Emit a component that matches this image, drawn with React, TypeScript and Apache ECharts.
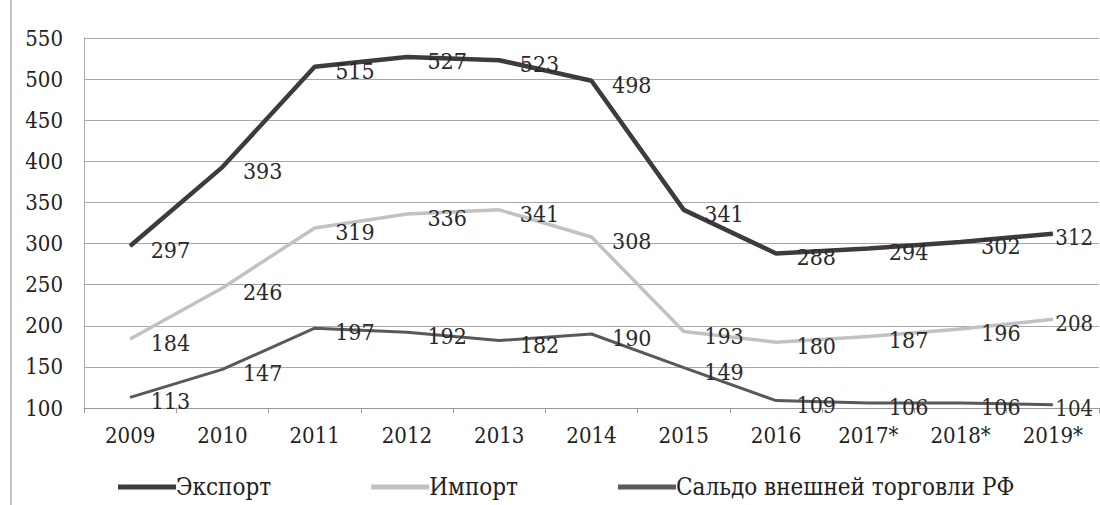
import React, { useEffect, useRef } from "react";
import * as echarts from "echarts";

const categories = ["2009", "2010", "2011", "2012", "2013", "2014", "2015", "2016", "2017*", "2018*", "2019*"];
const exportValues = [297, 393, 515, 527, 523, 498, 341, 288, 294, 302, 312];
const importValues = [184, 246, 319, 336, 341, 308, 193, 180, 187, 196, 208];
const saldoValues = [113, 147, 197, 192, 182, 190, 149, 109, 106, 106, 104];

const FONT = "DejaVu Serif Condensed";

export default function App() {
  const ref = useRef<HTMLDivElement>(null);
  useEffect(() => {
    if (!ref.current) return;
    const chart = echarts.init(ref.current, undefined, { renderer: "svg" });
    const label = {
      show: true,
      position: "right" as const,
      distance: 20,
      offset: [0, 4],
      fontFamily: FONT,
      fontSize: 23,
      color: "#2a2a2a",
    };
    const mk = (name: string, data: number[], color: string, width: number) => ({
      name,
      type: "line",
      data: data.map((v, i) =>
        i === data.length - 1 ? { value: v, label: { distance: 2, fontSize: 22 } } : v
      ),
      symbol: "circle",
      symbolSize: 1,
      showSymbol: true,
      lineStyle: { color, width },
      itemStyle: { color },
      label,
    });
    chart.setOption({
      animation: false,
      backgroundColor: "#ffffff",
      grid: { left: 84, right: 1, top: 38, bottom: 97 },
      xAxis: {
        type: "category",
        data: categories,
        boundaryGap: true,
        axisLine: { lineStyle: { color: "#999", width: 1 } },
        axisTick: { show: true, length: 5, lineStyle: { color: "#999" } },
        axisLabel: { fontFamily: FONT, fontSize: 22, color: "#222", margin: 16, interval: 0 },
      },
      yAxis: {
        type: "value",
        min: 100,
        max: 550,
        interval: 50,
        axisLine: { show: true, lineStyle: { color: "#aaa" } },
        axisTick: { show: false },
        axisLabel: { fontFamily: FONT, fontSize: 22, color: "#222", margin: 21 },
        splitLine: { lineStyle: { color: "#a8a8a8", width: 1 } },
      },
      legend: {
        left: 113,
        top: 470,
        itemGap: 100,
        itemWidth: 58,
        itemHeight: 5,
        icon: "rect",
        textStyle: { fontFamily: FONT, fontSize: 24, color: "#222", padding: [0, 0, 0, -5] },
        data: ["Экспорт", "Импорт", "Сальдо внешней торговли РФ"],
      },
      graphic: [
        { type: "line", shape: { x1: 11, y1: 0, x2: 11, y2: 505 }, style: { stroke: "#888", lineWidth: 1 } },
      ],
      series: [
        mk("Экспорт", exportValues, "#403a3e", 4.5),
        mk("Импорт", importValues, "#c2c2c2", 3.5),
        mk("Сальдо внешней торговли РФ", saldoValues, "#5d575b", 3),
      ],
    });
    return () => chart.dispose();
  }, []);
  return <div ref={ref} style={{ width: 1100, height: 505, position: "absolute", left: 0, top: 0 }} />;
}
